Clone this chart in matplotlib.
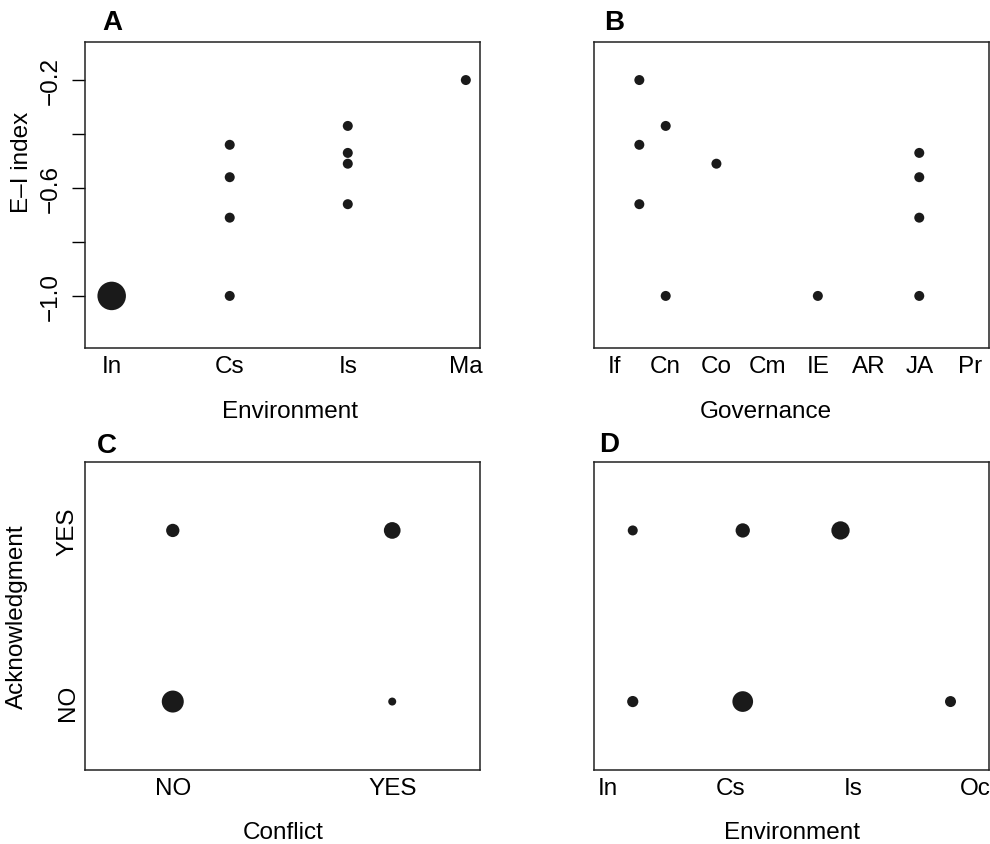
import numpy as np
import matplotlib
matplotlib.use('Agg')
import matplotlib.pyplot as plt

plt.rcParams['font.family'] = ['Liberation Sans', 'DejaVu Sans']

# A: E-I index by environment
env_labels = ['In', 'Cs', 'Is', 'Ma']
a_x = [1, 2, 2, 2, 2, 3, 3, 3, 3, 4]
a_y = [-1.0, -0.44, -0.56, -0.71, -1.0, -0.37, -0.47, -0.51, -0.66, -0.2]
a_w = [2.85, 1, 1, 1, 1, 1, 1, 1, 1, 1]

# B: E-I index by governance
gov_labels = ['If', 'Cn', 'Co', 'Cm', 'IE', 'AR', 'JA', 'Pr']
b_x = [1.48, 1.48, 1.48, 2, 2, 3, 5, 7, 7, 7, 7]
b_y = [-0.2, -0.44, -0.66, -0.37, -1.0, -0.51, -1.0, -0.47, -0.56, -0.71, -1.0]
b_w = [1] * 11

# C: acknowledgment by conflict
yn_labels = ['NO', 'YES']
c_x = [1, 2, 1, 2]
c_y = [2, 2, 1, 1]
c_w = [1.33, 1.67, 2.2, 0.8]

# D: acknowledgment by environment
env2_labels = ['In', 'Cs', 'Is', 'Oc']
d_x = [1.2, 2.1, 2.9, 1.2, 2.1, 3.8]
d_y = [2, 2, 2, 1, 1, 1]
d_w = [1.0, 1.43, 1.83, 1.12, 2.07, 1.1]

W, H = 990, 845
fig = plt.figure(figsize=(W / 100, H / 100), dpi=100)

def box(l, t, r, b):
    return [l / W, 1 - b / H, (r - l) / W, (b - t) / H]

ink = '#1a1a1a'
fs = 17.5

def dots(ax, x, y, w):
    d = np.array(w) * 10.0 * 0.72  # diameter in points
    ax.scatter(x, y, s=d ** 2, color=ink, edgecolors='none', zorder=3)

def frame(ax):
    for sp in ax.spines.values():
        sp.set_linewidth(1.1)
        sp.set_color('#222222')

axA = fig.add_axes(box(85, 43, 480, 349))
axB = fig.add_axes(box(594, 43, 989, 349))
axC = fig.add_axes(box(85, 463, 480, 771))
axD = fig.add_axes(box(594, 463, 989, 771))

dots(axA, a_x, a_y, a_w)
axA.set_xlim(0.774, 4.12)
axA.set_ylim(-1.193, -0.059)
axA.set_xticks(range(1, 5))
axA.set_xticklabels(env_labels)
axA.set_yticks([-1.0, -0.8, -0.6, -0.4, -0.2])
axA.set_yticklabels(['\u22121.0', '', '\u22120.6', '', '\u22120.2'],
                    rotation=90, va='center')
axA.tick_params(axis='y', length=9.5, width=1.0, pad=7, labelsize=fs)
axA.tick_params(axis='x', length=0, pad=5, labelsize=fs)

dots(axB, b_x, b_y, b_w)
axB.set_xlim(0.586, 8.375)
axB.set_ylim(-1.193, -0.059)
axB.set_xticks(range(1, 9))
axB.set_xticklabels(gov_labels)
axB.set_yticks([])
axB.tick_params(axis='x', length=0, pad=5, labelsize=fs)

dots(axC, c_x, c_y, c_w)
axC.set_xlim(0.6, 2.4)
axC.set_ylim(0.6, 2.4)
axC.set_xticks([1, 2])
axC.set_xticklabels(yn_labels)
axC.set_yticks([1, 2])
axC.set_yticklabels(yn_labels, rotation=90, va='center')
axC.tick_params(axis='y', length=0, pad=4.5, labelsize=fs)
axC.tick_params(axis='x', length=0, pad=5, labelsize=fs)

dots(axD, d_x, d_y, d_w)
axD.set_xlim(0.883, 4.115)
axD.set_ylim(0.6, 2.4)
axD.set_xticks(range(1, 5))
axD.set_xticklabels(env2_labels)
axD.set_yticks([])
axD.tick_params(axis='x', length=0, pad=5, labelsize=fs)

for ax in (axA, axB, axC, axD):
    frame(ax)

def ftext(x, y, s, **kw):
    fig.text(x / W, 1 - y / H, s, ha='center', va='center', **kw)

ftext(290, 412, 'Environment', fontsize=fs)
ftext(766, 412, 'Governance', fontsize=fs)
ftext(283, 833, 'Conflict', fontsize=fs)
ftext(792, 833, 'Environment', fontsize=fs)
ftext(22, 162, 'E\u2013I index', fontsize=fs, rotation=90)
ftext(17, 617, 'Acknowledgment', fontsize=fs, rotation=90)

for lab, x, y in [('A', 112, 23), ('B', 614, 23), ('C', 107, 446), ('D', 609, 445)]:
    ftext(x, y, lab, fontsize=20, fontweight='bold')

fig.savefig('out.png', dpi=100)
